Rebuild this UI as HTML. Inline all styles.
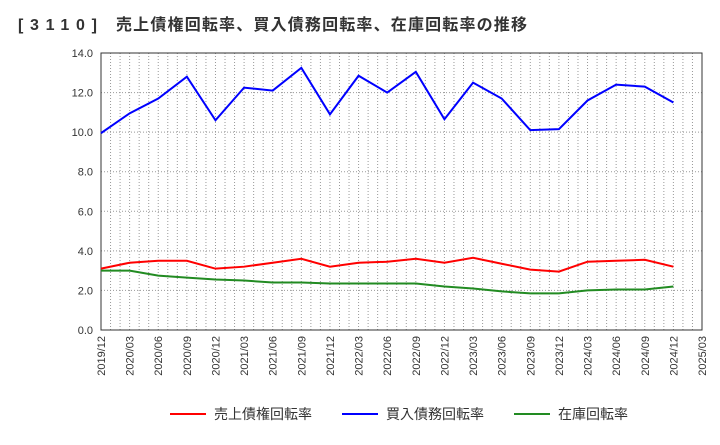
<!DOCTYPE html>
<html><head><meta charset="utf-8"><style>
body{margin:0;background:#fff;font-family:"Liberation Sans","Noto Sans CJK JP",sans-serif;}
</style></head><body>
<svg id="c" width="720" height="440" xmlns="http://www.w3.org/2000/svg">
<text y="30" font-size="16" font-weight="bold" fill="#333" font-family="Liberation Sans, Noto Sans CJK JP, sans-serif"><tspan x="18" textLength="79">[3110]</tspan><tspan x="116" textLength="411">売上債権回転率、買入債務回転率、在庫回転率の推移</tspan></text>
<g id="grid"></g><g id="axes"></g><g id="series"></g><g id="legend"></g>
</svg>
<script>
const xLabels=["2019/12","2020/03","2020/06","2020/09","2020/12","2021/03","2021/06","2021/09","2021/12","2022/03","2022/06","2022/09","2022/12","2023/03","2023/06","2023/09","2023/12","2024/03","2024/06","2024/09","2024/12","2025/03"];
const yTicks=[0,2,4,6,8,10,12,14];
const receivables=[3.1,3.4,3.5,3.5,3.1,3.2,3.4,3.6,3.2,3.4,3.45,3.6,3.4,3.65,3.35,3.05,2.95,3.45,3.5,3.55,3.2];
const payables=[9.95,10.95,11.7,12.8,10.6,12.25,12.1,13.25,10.9,12.85,12.0,13.05,10.65,12.5,11.7,10.1,10.15,11.6,12.4,12.3,11.5];
const inventory=[3.0,3.0,2.75,2.65,2.55,2.5,2.4,2.4,2.35,2.35,2.35,2.35,2.2,2.1,1.95,1.85,1.85,2.0,2.05,2.05,2.2];
const NS="http://www.w3.org/2000/svg";
const L=101,R=702,T=53,B=330;
const xs=i=>L+i*(R-L)/21;
const ys=v=>B-v*(B-T)/14;
function mk(t,a,p){const e=document.createElementNS(NS,t);for(const k in a)e.setAttribute(k,a[k]);p.appendChild(e);return e;}
const grid=document.getElementById('grid'),axes=document.getElementById('axes'),ser=document.getElementById('series'),leg=document.getElementById('legend');
for(let m=1;m<63;m++){const x=L+m*(R-L)/63;const g=mk('line',{x1:x,x2:x,y1:T,y2:B,stroke:'#999','stroke-dasharray':'1,2','stroke-width':1},grid);

}
yTicks.forEach(v=>{const y=ys(v);
const g=mk('line',{x1:L,x2:R,y1:y,y2:y,stroke:'#999','stroke-dasharray':'1,2'},grid);


const t=mk('text',{x:L-8,y:y+4,'text-anchor':'end','font-size':11,fill:'#333'},axes);t.textContent=v.toFixed(1);

});
const fr=mk('rect',{x:L,y:T,width:R-L,height:B-T,fill:'none',stroke:'#333'},axes);


xLabels.forEach((s,i)=>{const x=xs(i);const t=mk('text',{transform:`translate(${x+4},${B+6}) rotate(-90)`,'text-anchor':'end','font-size':11,fill:'#333'},axes);t.textContent=s;

});
function line(d,c,n){const p=mk('polyline',{points:d.map((v,i)=>xs(i)+','+ys(v)).join(' '),fill:'none',stroke:c,'stroke-width':2},ser);

}
line(inventory,'#228b22','inventory-turnover-line');
line(receivables,'#ff0000','receivables-turnover-line');
line(payables,'#0000ff','payables-turnover-line');
[["売上債権回転率","#ff0000",170],["買入債務回転率","#0000ff",342],["在庫回転率","#228b22",514]].forEach(([s,c,x])=>{
const g=mk('g',{},leg);


mk('line',{x1:x,x2:x+36,y1:414,y2:414,stroke:c,'stroke-width':2},g);
const t=mk('text',{x:x+44,y:419,'font-size':14,fill:'#333'},g);t.textContent=s;});
</script>
</body></html>
